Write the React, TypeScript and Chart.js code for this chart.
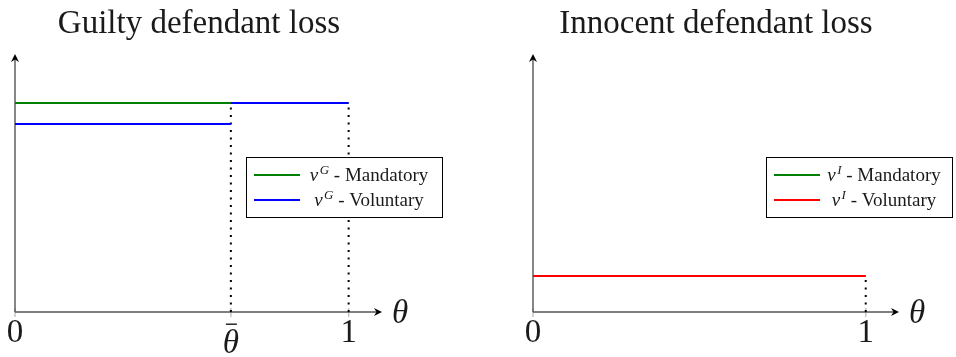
import { useEffect, useRef } from "react";
import { Chart, registerables } from "chart.js";

Chart.register(...registerables);

// Threshold type where the voluntary regime switches
const THETA_BAR = 0.647;

// Horizontal axis: type θ from 0 to 1 (the axis arrow runs a bit past 1)
const X_MAX = 1.1;
const Y_MAX = 1.235;

const guiltyTickValues = [0, THETA_BAR, 1];
const guiltyTickLabels = ["0", "\u03B8\u0304", "1"];
const innocentTickValues = [0, 1];
const innocentTickLabels = ["0", "1"];

// Guilty defendant loss v^G
const guiltyMandatoryX = [0, 1];
const guiltyMandatoryY = [1.0, 1.0];
const guiltyVoluntaryLowX = [0, THETA_BAR];
const guiltyVoluntaryLowY = [0.9, 0.9];
const guiltyVoluntaryHighX = [THETA_BAR, 1];
const guiltyVoluntaryHighY = [1.0, 1.0];

// Innocent defendant loss v^I
const innocentMandatoryX = [0, 1];
const innocentMandatoryY = [0.172, 0.172];
const innocentVoluntaryX = [0, 1];
const innocentVoluntaryY = [0.172, 0.172];

// Dotted guides dropped from the curves to the θ axis
const guiltyGuideX = [THETA_BAR, 1];
const guiltyGuideTop = [1.0, 1.0];
const innocentGuideX = [1];
const innocentGuideTop = [0.172];

const FONT = '"Liberation Serif", "Times New Roman", serif';

const zip = (xs: number[], ys: number[]) => xs.map((x, i) => ({ x, y: ys[i] }));

// Lower `order` is painted on top in Chart.js
function guideDatasets(xs: number[], tops: number[]) {
  return xs.map((x, i) => ({
    data: [
      { x, y: 0 },
      { x, y: tops[i] },
    ],
    borderColor: "#000",
    borderWidth: 2,
    borderDash: [2, 5.5],
    pointRadius: 0,
    fill: false,
    order: 3,
  }));
}

function seriesDataset(
  xs: number[],
  ys: number[],
  color: string,
  order: number,
  sup?: string,
  text?: string
) {
  return {
    data: zip(xs, ys),
    borderColor: color,
    backgroundColor: color,
    borderWidth: 2,
    pointRadius: 0,
    fill: false,
    clip: 4,
    order,
    legendSup: sup,
    legendText: text,
  };
}

function arrowHead(ctx: CanvasRenderingContext2D, x: number, y: number, angle: number) {
  ctx.save();
  ctx.translate(x, y);
  ctx.rotate(angle);
  ctx.beginPath();
  ctx.moveTo(0, 0);
  ctx.lineTo(-8, -4);
  ctx.lineTo(-5.5, 0);
  ctx.lineTo(-8, 4);
  ctx.closePath();
  ctx.fillStyle = "#000";
  ctx.fill();
  ctx.restore();
}

const lossFigure = {
  id: "lossFigure",
  beforeDatasetsDraw(chart: any, _args: any, opts: any) {
    const ctx: CanvasRenderingContext2D = chart.ctx;
    const xs = chart.scales.x;
    const ys = chart.scales.y;
    const x0 = xs.getPixelForValue(0);
    const y0 = ys.getPixelForValue(0);
    const xEnd = xs.getPixelForValue(X_MAX);
    const yEnd = ys.getPixelForValue(Y_MAX);
    ctx.save();
    // light tick marks
    ctx.strokeStyle = "#c4c4c4";
    ctx.lineWidth = 1.5;
    for (const v of opts.tickValues) {
      const px = xs.getPixelForValue(v);
      ctx.beginPath();
      ctx.moveTo(px, y0 - 4);
      ctx.lineTo(px, y0 + 5);
      ctx.stroke();
    }
    // axes
    ctx.strokeStyle = "#555";
    ctx.lineWidth = 1.4;
    ctx.beginPath();
    ctx.moveTo(x0, y0);
    ctx.lineTo(xEnd - 3, y0);
    ctx.moveTo(x0, y0);
    ctx.lineTo(x0, yEnd + 3);
    ctx.stroke();
    arrowHead(ctx, xEnd, y0, 0);
    arrowHead(ctx, x0, yEnd, -Math.PI / 2);
    ctx.restore();
  },
  afterDatasetsDraw(chart: any, _args: any, opts: any) {
    const ctx: CanvasRenderingContext2D = chart.ctx;
    const xs = chart.scales.x;
    const ys = chart.scales.y;
    const y0 = ys.getPixelForValue(0);
    const xEnd = xs.getPixelForValue(X_MAX);
    ctx.save();
    ctx.fillStyle = "#1a1a1a";

    // title
    ctx.font = `33px ${FONT}`;
    ctx.textAlign = "center";
    ctx.textBaseline = "alphabetic";
    ctx.fillText(opts.title, opts.titleX, 33);

    // tick labels
    opts.tickValues.forEach((v: number, i: number) => {
      const px = xs.getPixelForValue(v);
      const label: string = opts.tickLabels[i];
      if (label.includes("\u0304")) {
        const base = label.replace("\u0304", "");
        ctx.font = `italic 33px ${FONT}`;
        ctx.textAlign = "center";
        ctx.fillText(base, px, 353);
        ctx.fillRect(px - 5, 323.5, 11, 1.4);
      } else {
        ctx.font = `33px ${FONT}`;
        ctx.textAlign = "center";
        ctx.fillText(label, px, 342);
      }
    });

    // axis name
    ctx.font = `italic 33px ${FONT}`;
    ctx.textAlign = "left";
    ctx.fillText("\u03B8", xEnd + 10, y0 + 11);

    // legend
    const lb = opts.legendBox;
    ctx.fillStyle = "#fff";
    ctx.fillRect(lb.left, lb.top, lb.width, lb.height);
    ctx.strokeStyle = "#000";
    ctx.lineWidth = 1;
    ctx.strokeRect(lb.left + 0.5, lb.top + 0.5, lb.width, lb.height);
    const items = chart.data.datasets.filter((d: any) => d.legendText);
    items.forEach((d: any, i: number) => {
      const cy = lb.top + 18 + i * 25;
      ctx.strokeStyle = d.borderColor;
      ctx.lineWidth = 2;
      ctx.beginPath();
      ctx.moveTo(lb.left + 8, cy);
      ctx.lineTo(lb.left + 54, cy);
      ctx.stroke();
      const cx = (lb.left + 57 + lb.left + lb.width - 7) / 2;
      const fv = `italic 19px ${FONT}`;
      const fs = `italic 13px ${FONT}`;
      const fr = `19px ${FONT}`;
      ctx.font = fv;
      const wv = ctx.measureText("v").width;
      ctx.font = fs;
      const ws = ctx.measureText(d.legendSup).width;
      ctx.font = fr;
      const text = " - " + d.legendText;
      const wr = ctx.measureText(text).width;
      let x = cx - (wv + 1.5 + ws + wr) / 2;
      const base = cy + 6;
      ctx.fillStyle = "#1a1a1a";
      ctx.textAlign = "left";
      ctx.font = fv;
      ctx.fillText("v", x, base);
      x += wv + 1.5;
      ctx.font = fs;
      ctx.fillText(d.legendSup, x, base - 7.5);
      x += ws;
      ctx.font = fr;
      ctx.fillText(text, x, base);
    });
    ctx.restore();
  },
};

function makeConfig(datasets: any[], padding: any, figure: any) {
  return {
    type: "line" as const,
    data: { datasets },
    options: {
      animation: false as const,
      responsive: false,
      layout: { padding },
      events: [],
      scales: {
        x: { type: "linear" as const, min: 0, max: X_MAX, display: false },
        y: { type: "linear" as const, min: 0, max: Y_MAX, display: false },
      },
      plugins: {
        legend: { display: false },
        tooltip: { enabled: false },
        title: { display: false },
        lossFigure: figure,
      },
    },
    plugins: [lossFigure],
  };
}

export default function App() {
  const leftRef = useRef<HTMLCanvasElement>(null);
  const rightRef = useRef<HTMLCanvasElement>(null);

  useEffect(() => {
    const guilty = new Chart(
      leftRef.current!,
      makeConfig(
        [
          seriesDataset(guiltyMandatoryX, guiltyMandatoryY, "#008000", 2, "G", "Mandatory"),
          seriesDataset(guiltyVoluntaryLowX, guiltyVoluntaryLowY, "#0000ff", 1, "G", "Voluntary"),
          seriesDataset(guiltyVoluntaryHighX, guiltyVoluntaryHighY, "#0000ff", 1),
          ...guideDatasets(guiltyGuideX, guiltyGuideTop),
        ],
        { left: 15, right: 96, top: 54, bottom: 45 },
        {
          title: "Guilty defendant loss",
          titleX: 199,
          tickValues: guiltyTickValues,
          tickLabels: guiltyTickLabels,
          legendBox: { left: 246, top: 157, width: 196, height: 60 },
        }
      ) as any
    );
    const innocent = new Chart(
      rightRef.current!,
      makeConfig(
        [
          seriesDataset(innocentMandatoryX, innocentMandatoryY, "#008000", 2, "I", "Mandatory"),
          seriesDataset(innocentVoluntaryX, innocentVoluntaryY, "#ff0000", 1, "I", "Voluntary"),
          ...guideDatasets(innocentGuideX, innocentGuideTop),
        ],
        { left: 55, right: 57, top: 54, bottom: 45 },
        {
          title: "Innocent defendant loss",
          titleX: 238,
          tickValues: innocentTickValues,
          tickLabels: innocentTickLabels,
          legendBox: { left: 288, top: 157, width: 186, height: 60 },
        }
      ) as any
    );
    return () => {
      guilty.destroy();
      innocent.destroy();
    };
  }, []);

  return (
    <div style={{ position: "absolute", left: 0, top: 0, width: 956, height: 357, background: "#fff" }}>
      <canvas ref={leftRef} width={478} height={357} style={{ position: "absolute", left: 0, top: 0, width: 478, height: 357 }} />
      <canvas ref={rightRef} width={478} height={357} style={{ position: "absolute", left: 478, top: 0, width: 478, height: 357 }} />
    </div>
  );
}
